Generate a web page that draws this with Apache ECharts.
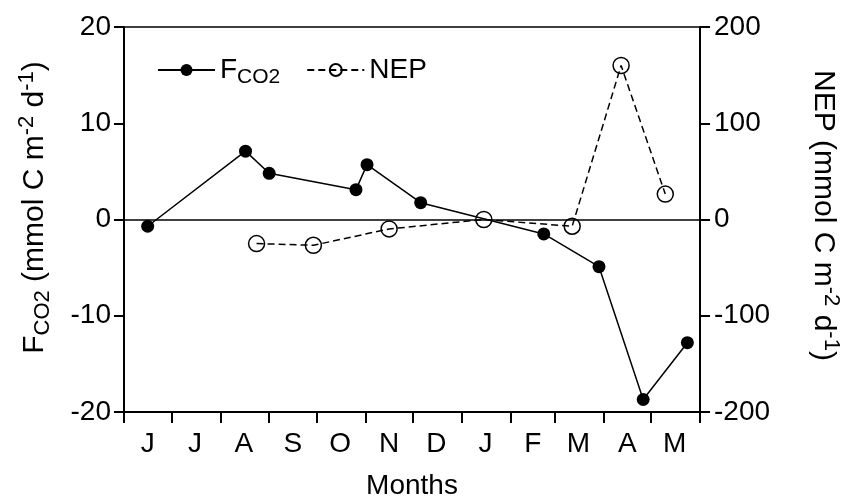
<!DOCTYPE html>
<html>
<head>
<meta charset="utf-8">
<script src="https://cdn.jsdelivr.net/npm/echarts@6/dist/echarts.min.js"></script>
<style>
html,body{margin:0;padding:0;background:#fff;}
#chart{width:848px;height:499px;}
</style>
</head>
<body>
<div id="chart"></div>
<script>
// Month tick labels and month lengths (June -> May)
const monthLabels = ['J','J','A','S','O','N','D','J','F','M','A','M'];
const monthDays = [30,31,31,30,31,30,31,31,28,31,30,31];

// FCO2 (mmol C m-2 d-1): day counted from 1 June, value
const fco2Days = [15, 77, 92, 147, 154, 188, 266, 301, 329, 357];
const fco2Values = [-0.7, 7.1, 4.8, 3.1, 5.7, 1.75, -1.5, -4.9, -18.7, -12.8];

// NEP (mmol C m-2 d-1)
const nepDays = [84, 120, 168, 228, 284, 315, 343];
const nepValues = [-25, -26.8, -9.8, 0, -7, 160, 26.4];

const leftTicks = [-20, -10, 0, 10, 20];
const rightTicks = [-200, -100, 0, 100, 200];

// build day categories
const totalDays = monthDays.reduce((a, b) => a + b, 0);
const dayCats = [];
for (let i = 0; i <= totalDays; i++) dayCats.push('');
const monthStarts = [0];
let acc = 0;
monthDays.forEach((d, i) => {
  const mid = acc + Math.floor(d / 2);
  dayCats[mid] = monthLabels[i];
  acc += d;
  monthStarts.push(acc);
});

const FONT = 'Liberation Sans, Arial, sans-serif';
const TICK = 28;
const chart = echarts.init(document.getElementById('chart'), null, {renderer: 'canvas'});

const titleRich = {
  t: {fontSize: 30, fontFamily: FONT, color: '#000', lineHeight: 38},
  sub: {fontSize: 22, fontFamily: FONT, color: '#000', lineHeight: 25, verticalAlign: 'bottom'},
  sup: {fontSize: 22, fontFamily: FONT, color: '#000', lineHeight: 24, verticalAlign: 'top'}
};

const option = {
  animation: false,
  backgroundColor: '#fff',
  grid: {left: 124, right: 148, top: 27, bottom: 87, show: true, borderColor: '#000', borderWidth: 1.5,
    backgroundColor: 'transparent', outerBoundsMode: 'none', containLabel: false},
  legend: {
    left: 152, top: 51,
    itemWidth: 57, itemHeight: 15, itemGap: 26,
    data: ['FCO2', 'NEP'],
    formatter: function (name) {
      return name === 'FCO2' ? '{t|F}{sub|CO2}' : '{t|NEP}';
    },
    textStyle: {
      fontFamily: FONT, color: '#000',
      rich: {
        t: {fontSize: 28, fontFamily: FONT, color: '#000', lineHeight: 36},
        sub: {fontSize: 21, fontFamily: FONT, color: '#000', lineHeight: 22, verticalAlign: 'bottom'}
      }
    }
  },
  xAxis: [{
    type: 'category',
    data: dayCats,
    boundaryGap: false,
    position: 'bottom',
    axisLine: {show: true, onZero: false, lineStyle: {color: '#000', width: 2}},
    axisTick: {show: true, length: 11, lineStyle: {color: '#000', width: 2},
      interval: function (idx) { return monthStarts.indexOf(idx) >= 0; }},
    axisLabel: {show: true, interval: function (idx, val) { return val !== ''; },
      fontSize: TICK, fontFamily: FONT, color: '#000', margin: 18},
    splitLine: {show: false},
    name: 'Months', nameLocation: 'middle', nameGap: 60,
    nameTextStyle: {fontSize: TICK, fontFamily: FONT, color: '#000'}
  }, {
    type: 'value', min: 0, max: totalDays, show: false
  }],
  yAxis: [{
    type: 'value', min: -20, max: 20, interval: 10, position: 'left',
    axisLine: {show: true, lineStyle: {color: '#000', width: 2}},
    axisTick: {show: true, length: 10, lineStyle: {color: '#000', width: 2}},
    axisLabel: {fontSize: TICK, fontFamily: FONT, color: '#000', margin: 13,
      customValues: leftTicks},
    splitLine: {show: false},
    name: '{t|F}{sub|CO2}{t| (mmol C m}{sup|-2}{t| d}{sup|-1}{t|)}',
    nameLocation: 'middle', nameRotate: 90, nameGap: 70,
    nameTextStyle: {rich: titleRich, padding: [0, 0, 0, 24]}
  }, {
    type: 'value', min: -200, max: 200, interval: 100, position: 'right',
    axisLine: {show: true, lineStyle: {color: '#000', width: 2}},
    axisTick: {show: true, length: 10, lineStyle: {color: '#000', width: 2}},
    axisLabel: {fontSize: TICK, fontFamily: FONT, color: '#000', margin: 14,
      customValues: rightTicks},
    splitLine: {show: false},
    name: '{t|NEP (mmol C m}{sup|-2}{t| d}{sup|-1}{t|)}',
    nameLocation: 'middle', nameRotate: -90, nameGap: 104,
    nameTextStyle: {rich: titleRich, padding: [0, 8, 0, 0]}
  }],
  series: [{
    name: 'FCO2',
    type: 'line',
    xAxisIndex: 1, yAxisIndex: 0,
    data: fco2Days.map((d, i) => [d, fco2Values[i]]),
    symbol: 'circle', symbolSize: 13,
    itemStyle: {color: '#000'},
    lineStyle: {color: '#000', width: 1.5, type: 'solid'},
    z: 3,
    markLine: {
      silent: true, symbol: 'none', label: {show: false},
      lineStyle: {color: '#000', width: 1.5, type: 'solid'},
      data: [{yAxis: 0}]
    }
  }, {
    name: 'NEP',
    type: 'line',
    xAxisIndex: 1, yAxisIndex: 1,
    data: nepDays.map((d, i) => [d, nepValues[i]]),
    symbol: 'circle', symbolSize: 16,
    itemStyle: {color: 'rgba(255,255,255,0)', borderColor: '#000', borderWidth: 1.5},
    lineStyle: {color: '#000', width: 1.5, type: [7, 4]},
    z: 4
  }]
};
chart.setOption(option);
</script>
</body>
</html>
